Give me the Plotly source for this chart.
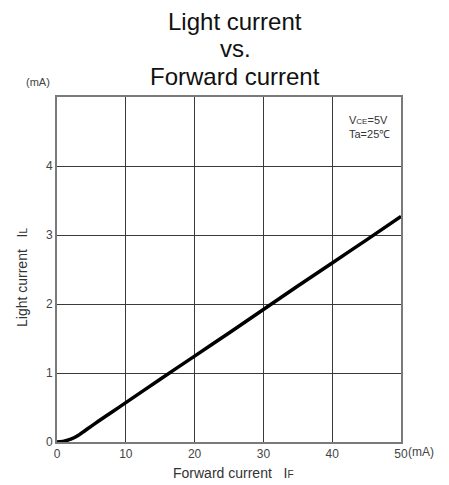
import plotly.graph_objects as go

# Data
forward_current = [0, 1, 2, 3, 4, 5, 6, 8, 10, 15, 20, 25, 30, 35, 40, 45, 50]
light_current = [0, 0.012, 0.04, 0.09, 0.16, 0.23, 0.30, 0.435, 0.57, 0.91, 1.245, 1.58, 1.92, 2.26, 2.595, 2.93, 3.27]
x_ticks = [0, 10, 20, 30, 40, 50]
y_ticks = [0, 1, 2, 3, 4]
title_lines = ["Light current", "vs.", "Forward current"]

FONT = "Liberation Sans, Arial, sans-serif"

# page body has an 8px margin, so the figure is placed 8px in from the top-left
OFF = 8
L, R, T, B = 57 - OFF, 48, 97 - OFF, 43
W, H = 449 - OFF, 485 - OFF
PW, PH = 344, 345


def px(xp):
    return (xp - 57) / PW


def py(yp):
    return (442 - yp) / PH


fig = go.Figure()
fig.add_trace(go.Scatter(
    x=forward_current, y=light_current, mode="lines",
    line=dict(color="black", width=3.5, shape="spline", smoothing=0.6),
    showlegend=False, hoverinfo="skip"))

fig.update_layout(
    width=W, height=H,
    margin=dict(l=L, r=R, t=T, b=B),
    paper_bgcolor="white", plot_bgcolor="white",
    font=dict(family=FONT, color="#333", size=12),
    xaxis=dict(range=[0, 50], tickvals=x_ticks, ticktext=[str(v) for v in x_ticks],
               showgrid=True, gridcolor="#3a3a3a", gridwidth=1,
               showline=True, linecolor="#7a7a7a", linewidth=2, mirror=True,
               zeroline=False, ticks="", ticklen=0, tickfont=dict(size=12, color="#444"),
               fixedrange=True),
    yaxis=dict(range=[0, 5], tickvals=y_ticks,
               showgrid=True, gridcolor="#3a3a3a", gridwidth=1,
               showline=True, linecolor="#7a7a7a", linewidth=2, mirror=True,
               zeroline=False, ticks="", ticklen=0, tickfont=dict(size=12, color="#444"),
               fixedrange=True),
)

ann = []
# Title (three lines)
for txt, yc in zip(title_lines, [21, 49, 77]):
    ann.append(dict(text=txt, xref="paper", yref="paper", x=px(235), y=py(yc),
                    xanchor="center", yanchor="middle", showarrow=False,
                    font=dict(size=24, color="#111", family=FONT)))
# (mA) top-left
ann.append(dict(text="(mA)", xref="paper", yref="paper", x=px(38), y=py(82),
                xanchor="center", yanchor="middle", showarrow=False, font=dict(size=11, color="#444")))
# (mA) after 50
ann.append(dict(text="(mA)", xref="paper", yref="paper", x=px(406), y=py(452),
                xanchor="left", yanchor="middle", showarrow=False, font=dict(size=12, color="#444")))
# x axis title
ann.append(dict(text="Forward current   I<span style='font-size:10px'>F</span>", xref="paper", yref="paper",
                x=px(233), y=py(473), xanchor="center", yanchor="middle",
                showarrow=False, font=dict(size=14, color="#333")))
# y axis title
ann.append(dict(text="Light current   I<span style='font-size:10px'>L</span>", xref="paper", yref="paper",
                x=px(22), y=py(278), xanchor="center", yanchor="middle",
                textangle=-90, showarrow=False, font=dict(size=14, color="#333")))
# conditions
ann.append(dict(text="V<span style='font-size:8px'>CE</span>=5V<br>Ta=25℃", xref="paper", yref="paper",
                x=px(392), y=py(112), xanchor="right", yanchor="top",
                showarrow=False, align="left", font=dict(size=11, color="#333")))
fig.update_layout(annotations=ann)

fig.write_html("out.html")
